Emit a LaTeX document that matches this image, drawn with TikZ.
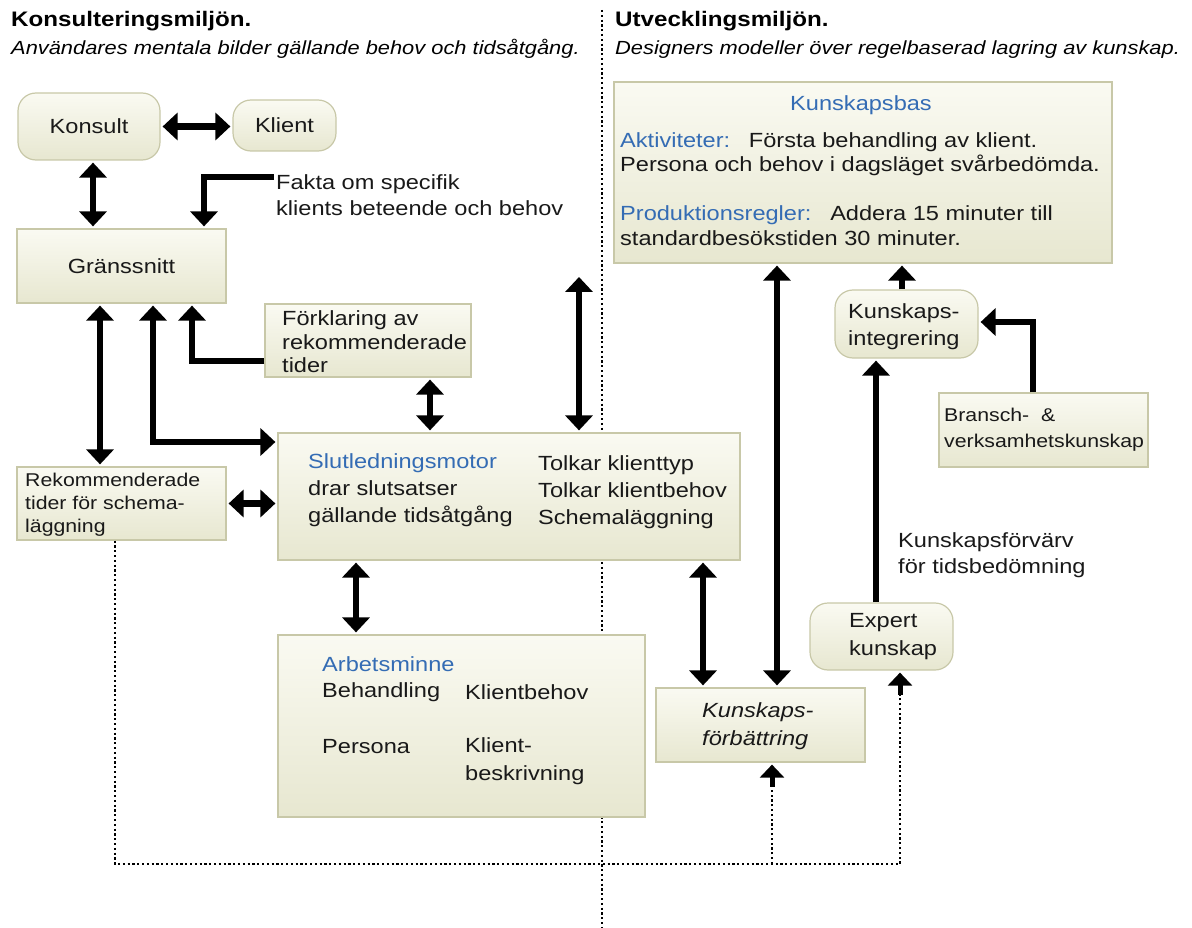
\documentclass[tikz,border=0pt]{standalone}
\usepackage{fontspec}
\setmainfont{Liberation Sans}[FakeStretch=1.15]
\usetikzlibrary{arrows.meta}
\definecolor{boxtop}{RGB}{250,250,242}
\definecolor{boxbot}{RGB}{231,231,208}
\definecolor{boxline}{RGB}{200,200,168}
\definecolor{headblue}{RGB}{52,108,180}
\definecolor{inkgray}{RGB}{25,25,25}
\newcommand\bodytxt{\fontsize{20.5}{26}\selectfont}
\newcommand\smalltxt{\fontsize{18.5}{23}\selectfont}

\begin{document}
\begin{tikzpicture}[x=1pt,y=-1pt,
  box/.style={draw=boxline,line width=1.2pt,top color=boxtop,bottom color=boxbot,inner sep=0pt,font=\bodytxt,text=inkgray},
  rbox/.style={box,rounded corners=18pt},
  txt/.style={inner sep=0pt,align=left,font=\bodytxt,text=inkgray},
  link/.style={line width=6.5pt,{Triangle[width=27pt,length=15pt]}-{Triangle[width=27pt,length=15pt]},shorten <=2pt,shorten >=2pt},
  link1/.style={line width=6.5pt,-{Triangle[width=27pt,length=15pt]},shorten >=2pt},
  dots/.style={line width=2.6pt,dash pattern=on 2.2pt off 2.6pt},
  dtip/.style={-{Triangle[width=24pt,length=13pt]},shorten >=2pt},
  stem/.style={line width=5pt}]
  \useasboundingbox (0,0) rectangle (1192,928);
  % ===================== rubriker =====================
  \node[anchor=base west,inner sep=0pt,font=\fontsize{21}{25}\selectfont\bfseries] (titleL) at (11,27) {Konsulteringsmiljön.};
  \node[anchor=base west,inner sep=0pt,font=\fontsize{19}{23}\selectfont\itshape] (subL) at (11,55) {Användares mentala bilder gällande behov och tidsåtgång.};
  \node[anchor=base west,inner sep=0pt,font=\fontsize{21}{25}\selectfont\bfseries] (titleR) at (615,27) {Utvecklingsmiljön.};
  \node[anchor=base west,inner sep=0pt,font=\fontsize{19}{23}\selectfont\itshape] (subR) at (615,55) {Designers modeller över regelbaserad lagring av kunskap.};
  % skiljelinje
  \coordinate (divtop) at (602,10);
  \coordinate (divbot) at (602,928);
  \draw[dots] (divtop) -- (divbot);
  % ===================== rutor =====================
  \node[rbox,minimum width=142pt,minimum height=67pt] (konsult) at (89,126.5) {Konsult};
  \node[rbox,minimum width=103pt,minimum height=51pt] (klient) at (284.5,125.5) {Klient};
  \node[box,minimum width=209pt,minimum height=74pt] (grans) at (121.5,266) {Gränssnitt};
  % forklaring
  \node[box,minimum width=206pt,minimum height=73pt] (forkl) at (368,340.5) {};
  \node[txt,anchor=west,font=\fontsize{20.5}{23.5}\selectfont] (forklT) at (282,342) {Förklaring av\\rekommenderade\\tider};
  % rekommenderade tider
  \node[box,minimum width=209pt,minimum height=73pt] (rek) at (121.5,503.5) {};
  \node[txt,anchor=west,font=\smalltxt] (rekT) at (25,505) {Rekommenderade\\tider för schema-\\läggning};
  % slutledningsmotor
  \node[box,minimum width=462pt,minimum height=127pt] (slut) at (509,496.5) {};
  \node[txt,anchor=west,font=\fontsize{20.5}{27}\selectfont] (slutL) at (308,490) {{\color{headblue}Slutledningsmotor}\\drar slutsatser\\gällande tidsåtgång};
  \node[txt,anchor=west,font=\fontsize{20.5}{27}\selectfont] (slutR) at (538,492) {Tolkar klienttyp\\Tolkar klientbehov\\Schemaläggning};
  % arbetsminne
  \node[box,minimum width=367pt,minimum height=182pt] (arb) at (461.5,726) {};
  \node[txt,anchor=west,text=headblue] (arbT) at (322,664) {Arbetsminne};
  \node[txt,anchor=west] (arbA) at (322,692) {Behandling};
  \node[txt,anchor=west] (arbB) at (465,692) {Klientbehov};
  \node[txt,anchor=west] (arbC) at (322,747) {Persona};
  \node[txt,anchor=west,font=\fontsize{20.5}{28}\selectfont] (arbD) at (465,761) {Klient-\\beskrivning};
  % kunskapsforbattring
  \node[box,minimum width=209pt,minimum height=74pt] (kf) at (760.5,725) {};
  \node[txt,anchor=west,font=\fontsize{20.5}{28}\selectfont\itshape] (kfT) at (702,726) {Kunskaps-\\förbättring};
  % kunskapsbas
  \node[box,minimum width=498pt,minimum height=181pt] (kb) at (863,172.5) {};
  \node[txt,text=headblue] (kbT) at (861,105) {Kunskapsbas};
  \node[txt,anchor=west,font=\fontsize{20.5}{24}\selectfont] (kbA) at (620,154) {{\color{headblue}Aktiviteter:}\hspace{10pt} Första behandling av klient.\\Persona och behov i dagsläget svårbedömda.};
  \node[txt,anchor=west,font=\fontsize{20.5}{25}\selectfont] (kbB) at (620,225.5) {{\color{headblue}Produktionsregler:}\hspace{10pt} Addera 15 minuter till\\standardbesökstiden 30 minuter.};
  % kunskapsintegrering
  \node[rbox,minimum width=143pt,minimum height=68pt] (integ) at (906.5,324) {};
  \node[txt,anchor=west,font=\fontsize{20.5}{27}\selectfont] (integT) at (848,326.5) {Kunskaps-\\integrering};
  % bransch
  \node[box,minimum width=209pt,minimum height=74pt] (bransch) at (1043.5,430) {};
  \node[txt,anchor=west,font=\fontsize{18.5}{26}\selectfont] (branschT) at (944,430) {Bransch-\ \ \&\\verksamhetskunskap};
  % expert
  \node[rbox,minimum width=143pt,minimum height=67pt] (expert) at (881.5,636.5) {};
  \node[txt,anchor=west,font=\fontsize{20.5}{28}\selectfont] (expertT) at (849,637) {Expert\\kunskap};
  % etiketter
  \node[txt,anchor=west] (faktaT) at (276,195) {Fakta om specifik\\klients beteende och behov};
  \node[txt,anchor=west] (forvT) at (898,555) {Kunskapsförvärv\\för tidsbedömning};
  % ===================== pilar =====================
  \draw[link] (konsult.east) -- (konsult.east -| klient.west);
  \draw[link] ([xshift=4pt]konsult.south) -- ([xshift=4pt]konsult.south |- grans.north);
  \coordinate (fakta0) at (274,177);
  \draw[link1] (fakta0) -| ([xshift=82.5pt]grans.north);
  \draw[link] ([xshift=-21.5pt]grans.south) -- ([xshift=-21.5pt]grans.south |- rek.north);
  \draw[link] ([xshift=31.5pt]grans.south) |- ([yshift=54.5pt]slut.west);
  \draw[link1] ([yshift=-20.5pt]forkl.west) -| ([xshift=70.5pt]grans.south);
  \draw[link] ([xshift=62pt]forkl.south) -- ([xshift=62pt]forkl.south |- slut.north);
  \draw[link] (rek.east) -- (rek.east -| slut.west);
  \coordinate (kbin) at (579,275);
  \draw[link] (kbin) -- (kbin |- slut.north);
  \draw[link] ([xshift=-153pt]slut.south) -- ([xshift=-153pt]slut.south |- arb.north);
  \draw[link] ([xshift=-57.5pt]kf.north) -- ([xshift=-57.5pt]kf.north |- slut.south);
  \draw[link] ([xshift=16.5pt]kf.north) -- ([xshift=16.5pt]kf.north |- kb.south);
  \draw[link1] ([xshift=-4.5pt]integ.north) -- ([xshift=-4.5pt]integ.north |- kb.south);
  \draw[link1] ([xshift=-5.5pt]expert.north) -- ([xshift=-5.5pt]expert.north |- integ.south);
  \draw[link1] ([xshift=-10.5pt]bransch.north) |- ([yshift=2pt]integ.east);
  % aterkoppling (prickad)
  \coordinate (fbR) at (900,864);
  \coordinate (fbK) at (772,864);
  \draw[dots,dtip] ([xshift=-6.5pt]rek.south) |- (fbR) -- (fbR |- expert.south);
  \draw[dots,dtip] (fbK) -- (fbK |- kf.south);
  \draw[stem] ([xshift=11.5pt,yshift=-24pt]kf.south) -- ([xshift=11.5pt,yshift=-13pt]kf.south);
  \draw[stem] ([xshift=18.5pt,yshift=-24pt]expert.south) -- ([xshift=18.5pt,yshift=-13pt]expert.south);
\end{tikzpicture}
\end{document}
